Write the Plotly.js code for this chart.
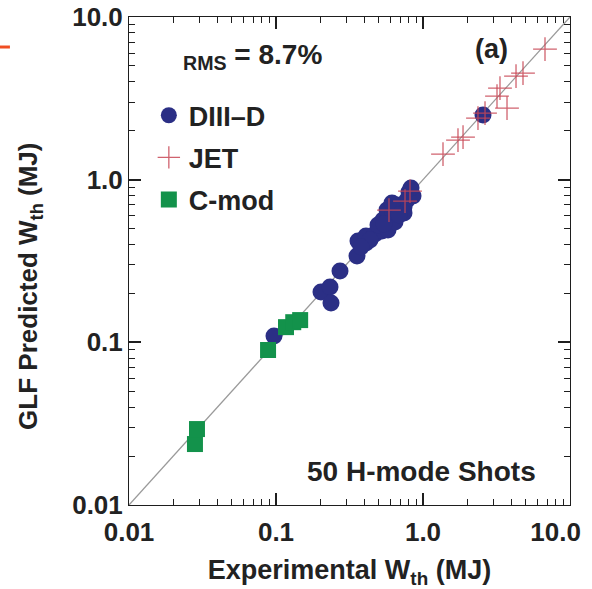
<!DOCTYPE html>
<html>
<head>
<meta charset="utf-8">
<script src="https://cdn.plot.ly/plotly-3.0.1.min.js"></script>
<style>html,body{margin:0;padding:0;background:#fff;}#chart{width:592px;height:589px;}.modebar-container{display:none !important;}</style>
</head>
<body>
<div id="chart"></div>
<script>
// DIII-D (experimental, predicted) in MJ
const diiidExp  = [0.0969,0.2024,0.2330,0.2367,0.2725,0.3556,0.3612,0.4095,0.4095,0.4717,0.5263,0.5779,0.5346,0.5690,0.6251,0.6652,0.7425,0.7785,0.8031,0.8551,0.7425,0.4942,0.6449,2.559,0.8288,0.4360,0.6153,0.6866,0.3787,0.5430];
const diiidPred = [0.1093,0.2039,0.2187,0.1744,0.2743,0.3391,0.4195,0.4077,0.4500,0.4630,0.4832,0.4900,0.5645,0.6504,0.6233,0.6981,0.6786,0.7492,0.8391,0.7931,0.6233,0.5260,0.5488,2.495,0.8880,0.4255,0.7182,0.6059,0.3852,0.5334];
// JET
const jetExp  = [6.760,4.789,4.293,3.340,3.187,3.728,2.642,2.366,1.872,1.730,1.368,0.8159,0.7544,0.5870];
const jetPred = [6.350,4.521,4.332,3.656,3.265,2.754,2.566,2.391,1.827,1.751,1.437,0.8509,0.7388,0.6504];
// C-mod
const cmodExp  = [0.0281,0.0290,0.0883,0.117,0.131,0.146];
const cmodPred = [0.0237,0.0293,0.0897,0.124,0.133,0.137];
// reference line y = x
const lineX = [0.01, 10];
const lineY = [0.01, 10];

// tick labels
const majorVals = [0.01, 0.1, 1, 10];
const xTickText = ['0.01', '0.1', '1.0', '10.0\u00a0\u00a0\u00a0\u00a0'];
const yTickText = ['0.01', '0.1', '1.0', '10.0'];
const minorMult = [2, 3, 4, 5, 6, 7, 8, 9];
const minorVals = [];
[0.01, 0.1, 1].forEach(d => minorMult.forEach(m => minorVals.push(d * m)));

const FONT = 'Liberation Sans, Arial, Helvetica, sans-serif';
const TXT = '#222';
const TICKC = 'rgb(30,30,30)';

const traces = [
  {x: lineX, y: lineY, mode: 'lines', line: {color: '#9a9a9a', width: 1.3}, showlegend: false, hoverinfo: 'skip'},
  {x: diiidExp, y: diiidPred, mode: 'markers', name: 'DIII\u2013D', legendgroup: 'a',
   marker: {symbol: 'circle', size: 17, color: '#2b2f85'}},
  {x: jetExp, y: jetPred, mode: 'markers', name: 'JET', legendgroup: 'b',
   marker: {symbol: 'cross-thin', size: 17, line: {color: 'rgba(200,70,85,0.85)', width: 1.3}}},
  {x: cmodExp, y: cmodPred, mode: 'markers', name: 'C-mod', legendgroup: 'c',
   marker: {symbol: 'square', size: 16, color: '#13924b'}}
];

function axis(extra) {
  return Object.assign({
    type: 'log', range: [-2, 1], tickmode: 'array', tickvals: majorVals,
    ticks: 'inside', ticklen: 12, tickwidth: 1.6, tickcolor: TICKC,
    showline: true, linecolor: TICKC, mirror: 'ticks',
    showgrid: false, zeroline: false,
    minor: {tickmode: 'array', tickvals: minorVals, ticks: 'inside', ticklen: 6, tickwidth: 1.3, tickcolor: TICKC, showgrid: false},
    tickfont: {family: FONT, size: 26, color: TXT, weight: 'bold'}
  }, extra);
}

const layout = {
  width: 592, height: 589,
  margin: {l: 129, r: 22, t: 17, b: 84},
  showlegend: true,
  legend: {x: 0.045, y: 0.848, xanchor: 'left', yanchor: 'top', bgcolor: 'rgba(0,0,0,0)',
           font: {family: FONT, size: 27, color: TXT, weight: 'bold'},
           traceorder: 'grouped', tracegroupgap: 4, itemwidth: 30},
  xaxis: axis({
    ticktext: xTickText, ticklabelstandoff: 4, ticklabeloverflow: 'allow',
    title: {text: 'Experimental W<sub>th</sub> (MJ)', standoff: 14,
            font: {family: FONT, size: 27, color: TXT, weight: 'bold'}}
  }),
  yaxis: axis({ticktext: yTickText}),
  annotations: [
    {xref: 'paper', yref: 'paper', x: -0.2245, y: 0.449, xanchor: 'center', yanchor: 'middle', showarrow: false,
     textangle: -90, text: 'GLF Predicted W<sub>th</sub> (MJ)', font: {family: FONT, size: 26, color: TXT, weight: 'bold'}},
    {xref: 'paper', yref: 'paper', x: 0.118, y: 0.92, xanchor: 'left', yanchor: 'middle', showarrow: false,
     text: '<sub>RMS</sub> = 8.7%', font: {family: FONT, size: 28, color: TXT, weight: 'bold'}},
    {xref: 'paper', yref: 'paper', x: 0.823, y: 0.934, xanchor: 'center', yanchor: 'middle', showarrow: false,
     text: '(a)', font: {family: FONT, size: 27, color: TXT, weight: 'bold'}},
    {xref: 'paper', yref: 'paper', x: 0.399, y: 0.068, xanchor: 'left', yanchor: 'middle', showarrow: false,
     text: '50 H-mode Shots', font: {family: FONT, size: 28, color: TXT, weight: 'bold'}}
  ],
  shapes: [
    {type: 'line', xref: 'paper', yref: 'paper', x0: -0.2925, x1: -0.270, y0: 0.9385, y1: 0.9385,
     line: {color: '#f04e23', width: 3}}
  ]
};

Plotly.newPlot('chart', traces, layout);
</script>
</body>
</html>
